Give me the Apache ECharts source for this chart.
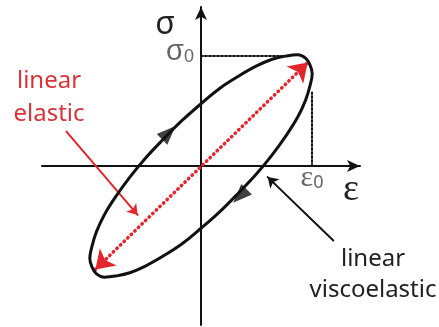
<!DOCTYPE html>
<html>
<head>
<meta charset="utf-8">
<script src="https://cdn.jsdelivr.net/npm/echarts@6/dist/echarts.min.js"></script>
<style>
  html, body { margin: 0; padding: 0; background: #ffffff; }
  #chart { width: 439px; height: 327px; }
</style>
</head>
<body>
<div id="chart"></div>
<script>
  // hysteresis loop (strain, stress), in units of eps0 / sigma0
  var loopStrain = [-0.17, 0, 0.17, 0.34, 0.5, 0.64, 0.77, 0.87, 0.94, 0.98, 1, 0.98, 0.94, 0.87, 0.77, 0.64, 0.5, 0.34, 0.17,
                    0, -0.17, -0.34, -0.5, -0.64, -0.77, -0.87, -0.94, -0.98, -1, -0.98, -0.94, -0.87, -0.77, -0.64, -0.5, -0.34, -0.17,
                    0, 0.17];
  var loopStress = [0.41, 0.56, 0.7, 0.81, 0.9, 0.96, 0.99, 1, 0.97, 0.91, 0.83, 0.72, 0.59, 0.44, 0.28, 0.1, -0.07, -0.24, -0.41,
                    -0.56, -0.7, -0.81, -0.9, -0.96, -0.99, -1, -0.97, -0.91, -0.83, -0.72, -0.59, -0.44, -0.28, -0.1, 0.07, 0.24, 0.41,
                    0.56, 0.7];

  // linear elastic line (double headed, dotted red)
  var elasticLine = [[-0.95, -0.93], [0.96, 0.93]];

  // sigma0 / eps0 guide lines
  var sigmaGuide = [[0, 0.99], [0.8, 0.99]];
  var epsGuide = [[1.0, 0], [1.0, 0.66]];

  // pointer arrows for the two labels
  var elasticPointer = [[-1.21, 0.31], [-0.57, -0.44]];
  var viscoPointer = [[1.19, -0.67], [0.6, -0.1]];

  // direction arrows on the loop: [strain, stress, rotation]
  var loopArrows = [[-0.29, 0.3, -45], [0.35, -0.27, 135]];

  var axisMin = -1.43;
  var axisMax = 1.43;

  var ink = '#111111';
  var red = '#e3262e';

  var chart = echarts.init(document.getElementById('chart'));

  var loopData = loopStrain.map(function (e, i) { return [e, loopStress[i]]; });

  function seg(coords, color, width, type, arrow, size) {
    return {
      type: 'lines',
      coordinateSystem: 'cartesian2d',
      silent: true,
      symbol: arrow,
      symbolSize: size,
      lineStyle: { color: color, width: width, type: type, cap: 'round', opacity: 1 },
      data: [{ coords: coords }]
    };
  }

  var option = {
    animation: false,
    grid: { left: 42, top: 7, width: 318, height: 318 },
    xAxis: {
      type: 'value', min: axisMin, max: axisMax,
      axisLine: { onZero: true, symbol: ['none', 'arrow'], symbolSize: [9, 13], lineStyle: { color: ink, width: 2 } },
      axisTick: { show: false }, axisLabel: { show: false }, splitLine: { show: false }
    },
    yAxis: {
      type: 'value', min: axisMin, max: axisMax,
      axisLine: { onZero: true, symbol: ['none', 'arrow'], symbolSize: [9, 13], lineStyle: { color: ink, width: 2 } },
      axisTick: { show: false }, axisLabel: { show: false }, splitLine: { show: false }
    },
    series: [
      seg(sigmaGuide, ink, 2, [2, 2], ['none', 'none'], 1),
      seg(epsGuide, ink, 2, [2, 2], ['none', 'none'], 1),
      {
        type: 'line',
        data: loopData,
        smooth: 0.4,
        showSymbol: false,
        silent: true,
        lineStyle: { color: ink, width: 3 }
      },
      seg(elasticLine, red, 3.5, [0.5, 4.5], ['arrow', 'arrow'], 18),
      seg(elasticPointer, red, 2, 'solid', ['none', 'arrow'], 10),
      seg(viscoPointer, ink, 2, 'solid', ['none', 'arrow'], 10),
      {
        type: 'scatter',
        silent: true,
        symbol: 'triangle',
        symbolSize: [15, 19],
        symbolRotate: function (v) { return v[2]; },
        itemStyle: { color: ink },
        data: loopArrows
      }
    ],
    graphic: [
      { type: 'text', x: 165, y: 25, style: { text: 'σ', fontSize: 32, fontFamily: 'Noto Sans', fill: '#222', align: 'center', verticalAlign: 'middle' } },
      { type: 'text', x: 351, y: 190, style: { text: 'ε', fontSize: 38, fontFamily: 'Liberation Serif', fill: '#222', align: 'center', verticalAlign: 'middle' } },
      { type: 'text', x: 180, y: 52, style: {
          text: '{m|σ}{s|0}', fill: '#666', align: 'center', verticalAlign: 'middle', fontFamily: 'Noto Sans',
          rich: { m: { fontSize: 29, fill: '#666' }, s: { fontSize: 18, fill: '#666', padding: [10, 0, 0, 0] } } } },
      { type: 'text', x: 312, y: 178, style: {
          text: '{m|ε}{s|0}', fill: '#666', align: 'center', verticalAlign: 'middle', fontFamily: 'Liberation Serif',
          rich: { m: { fontSize: 30, fill: '#666', fontFamily: 'Liberation Serif' }, s: { fontSize: 18, fill: '#666', fontFamily: 'Noto Sans', padding: [10, 0, 0, 0] } } } },
      { type: 'text', x: 49, y: 98, style: { text: 'linear\nelastic', fontSize: 24, lineHeight: 33, fontFamily: 'Noto Sans', fill: '#d8353b', align: 'center', verticalAlign: 'middle' } },
      { type: 'text', x: 373, y: 275, style: { text: 'linear\nviscoelastic', fontSize: 24, lineHeight: 31, fontFamily: 'Noto Sans', fill: '#222', align: 'center', verticalAlign: 'middle' } }
    ]
  };

  chart.setOption(option);
</script>
</body>
</html>
